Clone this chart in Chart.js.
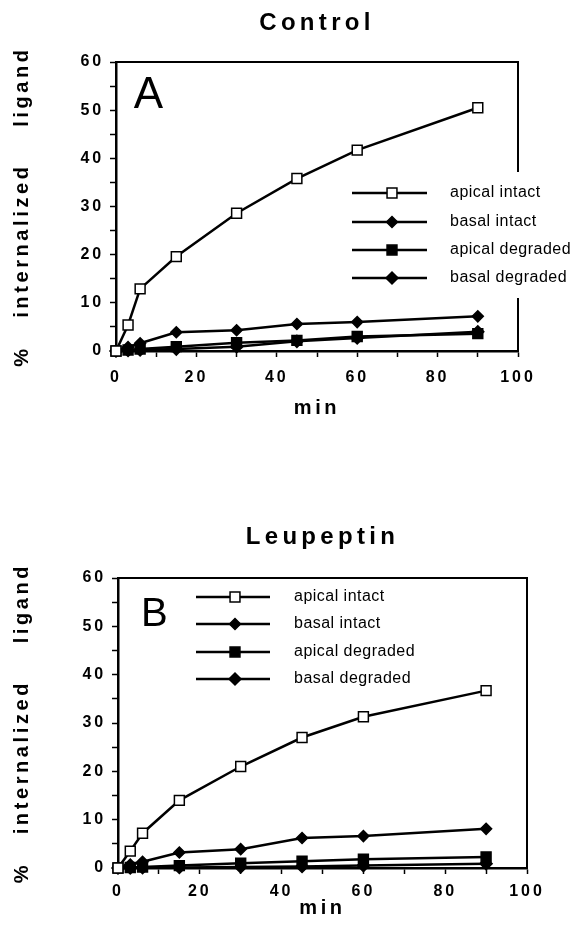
<!DOCTYPE html>
<html lang="en">
<head>
<meta charset="UTF-8" />
<title>Internalized ligand - Control / Leupeptin</title>
<script src="https://cdn.jsdelivr.net/npm/chart.js"></script>
<style>
  html, body { margin: 0; padding: 0; background: #fff; }
  #wrap { position: relative; width: 575px; height: 926px; }
  canvas { position: absolute; left: 0; }
  #chartA { top: 0; }
  #chartB { top: 463px; }
</style>
</head>
<body>
<div id="wrap">
  <canvas id="chartA" width="575" height="463"></canvas>
  <canvas id="chartB" width="575" height="463"></canvas>
</div>
<script>
  // sampling times (min)
  const minutes = [0, 3, 6, 15, 30, 45, 60, 90];
  const seriesNames = ['apical intact', 'basal intact', 'apical degraded', 'basal degraded'];

  // A: control (% internalized ligand)
  const apicalIntactA   = [0, 5.4, 12.9, 19.6, 28.6, 35.8, 41.7, 50.5];
  const basalIntactA    = [0, 0.8, 1.6, 3.9, 4.3, 5.6, 6.0, 7.2];
  const apicalDegradedA = [0, 0.2, 0.4, 0.9, 1.7, 2.2, 3.0, 3.6];
  const basalDegradedA  = [0, 0.1, 0.2, 0.4, 0.9, 2.0, 2.7, 4.0];

  // B: leupeptin
  const apicalIntactB   = [0, 3.5, 7.2, 14.0, 21.0, 27.0, 31.3, 36.7];
  const basalIntactB    = [0, 0.7, 1.3, 3.2, 3.9, 6.2, 6.6, 8.1];
  const apicalDegradedB = [0, 0.1, 0.2, 0.5, 1.0, 1.4, 1.8, 2.3];
  const basalDegradedB  = [0, 0, 0.05, 0.1, 0.2, 0.3, 0.5, 0.9];

  const FONT = "'Liberation Sans', Arial, sans-serif";

  const markers = [
    { style: 'rect',    radius: 7,   fill: '#fff' },
    { style: 'rectRot', radius: 5.5, fill: '#000' },
    { style: 'rect',    radius: 7,   fill: '#000' },
    { style: 'rectRot', radius: 6,   fill: '#000' }
  ];

  // old Mac style wide letter spacing for bold text
  function spacedText(ctx) {
    if (ctx.__spaced) return;
    const fill = CanvasRenderingContext2D.prototype.fillText;
    ctx.fillText = function (text, x, y, maxWidth) {
      const m = /(\d+(?:\.\d+)?)px/.exec(this.font);
      const size = m ? parseFloat(m[1]) : 12;
      const bold = /bold|700/.test(this.font);
      const prev = this.letterSpacing;
      this.letterSpacing = (bold ? size * 0.18 : size * 0.03) + 'px';
      if (maxWidth === undefined) fill.call(this, text, x, y);
      else fill.call(this, text, x, y, maxWidth);
      this.letterSpacing = prev;
    };
    ctx.__spaced = true;
  }

  function drawMarker(ctx, mk, x, y) {
    ctx.beginPath();
    if (mk.style === 'rect') {
      const s = mk.radius * Math.SQRT1_2;
      ctx.rect(x - s, y - s, 2 * s, 2 * s);
    } else {
      const r = mk.radius;
      ctx.moveTo(x - r, y); ctx.lineTo(x, y - r); ctx.lineTo(x + r, y); ctx.lineTo(x, y + r);
      ctx.closePath();
    }
    ctx.fillStyle = mk.fill;
    ctx.fill();
    ctx.lineWidth = 1.5;
    ctx.strokeStyle = '#000';
    ctx.stroke();
  }

  const panelDecor = {
    id: 'panelDecor',
    beforeDraw(chart) { spacedText(chart.ctx); },
    afterDatasetsDraw(chart, args, opts) {
      const ctx = chart.ctx;
      const a = chart.chartArea;
      ctx.save();
      // top and right frame
      ctx.strokeStyle = '#000';
      ctx.lineWidth = 2;
      ctx.beginPath();
      ctx.moveTo(a.left, a.top); ctx.lineTo(a.right, a.top);
      if (opts.gap) {
        ctx.lineTo(a.right, opts.gap[0]);
        ctx.moveTo(a.right, opts.gap[1]);
      }
      ctx.lineTo(a.right, a.bottom);
      ctx.stroke();

      // panel letter
      ctx.fillStyle = '#000';
      ctx.font = opts.letterSize + 'px ' + FONT;
      ctx.textAlign = 'center';
      ctx.textBaseline = 'middle';
      ctx.fillText(opts.letter, opts.letterX, opts.letterY);

      // legend
      const lg = opts.legend;
      ctx.font = '16px ' + FONT;
      ctx.textAlign = 'left';
      chart.data.datasets.forEach((ds, i) => {
        const y = lg.rows[i];
        ctx.strokeStyle = '#000';
        ctx.lineWidth = 2.5;
        ctx.beginPath();
        ctx.moveTo(lg.x0, y); ctx.lineTo(lg.x1, y);
        ctx.stroke();
        drawMarker(ctx, markers[i], lg.xm, y);
        ctx.fillStyle = '#000';
        ctx.fillText(ds.label, lg.xt, y);
      });
      ctx.restore();
    }
  };

  function makePanel(id, title, values, lay) {
    const datasets = values.map((vals, i) => ({
      label: seriesNames[i],
      data: minutes.map((t, j) => ({ x: t, y: vals[j] })),
      borderColor: '#000',
      borderWidth: 2.5,
      pointStyle: markers[i].style,
      pointRadius: markers[i].radius,
      pointBackgroundColor: markers[i].fill,
      pointBorderColor: '#000',
      pointBorderWidth: 1.5,
      tension: 0,
      clip: 10
    }));

    return new Chart(document.getElementById(id), {
      type: 'line',
      data: { datasets },
      options: {
        responsive: false,
        animation: false,
        layout: { padding: { left: 0, right: lay.padRight, top: 0, bottom: 0 } },
        plugins: {
          legend: { display: false },
          tooltip: { enabled: false },
          title: {
            display: true,
            text: title,
            fullSize: false,
            color: '#000',
            font: { family: FONT, size: 24, weight: 'bold' },
            padding: lay.titlePad
          },
          panelDecor: lay.decor
        },
        scales: {
          x: {
            type: 'linear',
            min: 0, max: 100,
            afterFit: s => { s.height = lay.xHeight; },
            ticks: {
              stepSize: 10,
              padding: lay.xTickPad,
              color: '#000',
              font: { family: FONT, size: 16, weight: 'bold' },
              maxRotation: 0,
              callback: v => (v % 20 === 0 ? v : '')
            },
            grid: { drawOnChartArea: false, tickLength: 6, color: '#000', tickWidth: 1.5 },
            border: { color: '#000', width: 2.5 },
            title: {
              display: true,
              text: 'min',
              color: '#000',
              font: { family: FONT, size: 20, weight: 'bold' },
              padding: { top: 0, bottom: lay.xTitlePad }
            }
          },
          y: {
            min: 0, max: 60,
            afterFit: s => { s.width = lay.yWidth; },
            ticks: {
              stepSize: 5,
              padding: 6,
              color: '#000',
              font: { family: FONT, size: 16, weight: 'bold' },
              callback: v => (v % 10 === 0 ? v : '')
            },
            grid: { drawOnChartArea: false, tickLength: 6, color: '#000', tickWidth: 1.5 },
            border: { color: '#000', width: 2.5 },
            title: {
              display: true,
              text: '%   internalized    ligand',
              color: '#000',
              font: { family: FONT, size: 20, weight: 'bold' },
              padding: { top: 10, bottom: 0 }
            }
          }
        }
      },
      plugins: [panelDecor]
    });
  }

  makePanel('chartA', 'Control',
    [apicalIntactA, basalIntactA, apicalDegradedA, basalDegradedA],
    {
      padRight: 57, yWidth: 116, xHeight: 112,
      titlePad: { top: 8.6, bottom: 24.6 },
      xTickPad: 11, xTitlePad: 43,
      decor: {
        letter: 'A', letterX: 149, letterY: 96, letterSize: 44,
        gap: [172, 298],
        legend: { x0: 352, x1: 427, xm: 392, xt: 450, rows: [193, 222, 250, 278] }
      }
    });

  makePanel('chartB', 'Leupeptin',
    [apicalIntactB, basalIntactB, apicalDegradedB, basalDegradedB],
    {
      padRight: 48, yWidth: 118, xHeight: 58,
      titlePad: { top: 59.6, bottom: 26.6 },
      xTickPad: 8, xTitlePad: 6,
      decor: {
        letter: 'B', letterX: 155, letterY: 152, letterSize: 40,
        gap: null,
        legend: { x0: 196, x1: 270, xm: 235, xt: 294, rows: [134, 161, 189, 216] }
      }
    });
</script>
</body>
</html>
